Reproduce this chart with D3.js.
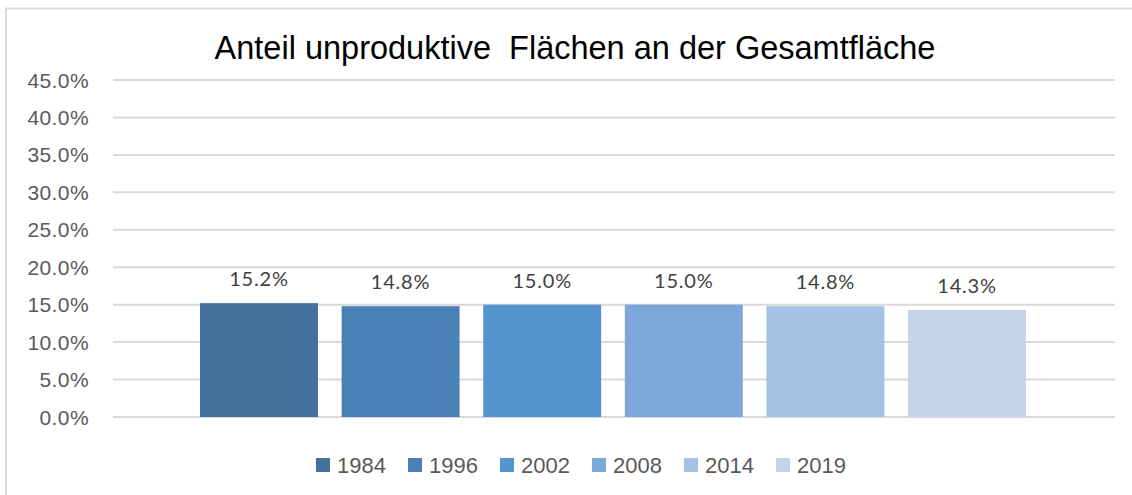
<!DOCTYPE html>
<html><head><meta charset="utf-8">
<script src="https://cdn.jsdelivr.net/npm/d3@7"></script>
<style>body{margin:0;background:#fff}svg{display:block}</style>
</head><body>
<svg id="c" width="1132" height="495"></svg>
<script>
const title = "Anteil unproduktive  Flächen an der Gesamtfläche";
const years = ["1984","1996","2002","2008","2014","2019"];
const values = [0.152,0.148,0.150,0.150,0.148,0.143];
const colors = ["#44709d","#4a80b6","#5495cf","#7ba8d9","#a5c1e4","#c4d5eb"];
const yTicks = [0,0.05,0.10,0.15,0.20,0.25,0.30,0.35,0.40,0.45];

const svg = d3.select("#c");
// frame
svg.append("rect").attr("x",6).attr("y",8.5).attr("width",1140).attr("height",500)
  .attr("fill","#fff").attr("stroke","#d9d9d9").attr("stroke-width",2);

const y = d3.scaleLinear().domain([0,0.45]).range([417,80]);
const x = d3.scaleBand().domain(years).range([200,1026]).paddingInner(0.167).paddingOuter(0);

const fmt = d3.format(".1%");
const g = svg.append("g");
g.selectAll("line.grid").data(yTicks).join("line").attr("class","grid")
  .attr("x1",113).attr("x2",1115).attr("y1",d=>y(d)).attr("y2",d=>y(d))
  .attr("stroke","#d9d9d9").attr("stroke-width",2);
g.selectAll("text.yl").data(yTicks).join("text").attr("class","yl")
  .attr("x",89).attr("y",d=>y(d)+7.5)
  .attr("text-anchor","end")
  .attr("font-family","Liberation Sans, Arial, sans-serif").attr("font-size",21)
  .attr("letter-spacing",0.4).attr("fill","#595959").text(d=>fmt(d));

g.selectAll("rect.bar").data(values).join("rect").attr("class","bar")
  .attr("x",(d,i)=>x(years[i])).attr("width",x.bandwidth())
  .attr("y",d=>y(d)).attr("height",d=>y(0)-y(d)).attr("fill",(d,i)=>colors[i]);

g.selectAll("text.dl").data(values).join("text").attr("class","dl")
  .attr("x",(d,i)=>x(years[i])+x.bandwidth()/2).attr("y",d=>y(d)-17)
  .attr("text-anchor","middle").attr("font-family","Lato, Carlito, sans-serif")
  .attr("font-size",20).attr("letter-spacing",0.8).attr("fill","#404040").text(d=>fmt(d));

svg.append("text").attr("x",575).attr("y",59).attr("text-anchor","middle")
  .attr("style","white-space:pre")
  .attr("font-family","Liberation Sans, Arial, sans-serif").attr("font-size",32.5)
  .attr("fill","#000").text(title);

const lg = svg.append("g");
const item = lg.selectAll("g").data(years).join("g")
  .attr("transform",(d,i)=>`translate(${316+i*92},0)`);
item.append("rect").attr("x",0).attr("y",458).attr("width",14).attr("height",14)
  .attr("fill",(d,i)=>colors[i]);
item.append("text").attr("x",21).attr("y",473)
  .attr("font-family","Liberation Sans, Arial, sans-serif").attr("font-size",22)
  .attr("fill","#595959").text(d=>d);
</script>
</body></html>
